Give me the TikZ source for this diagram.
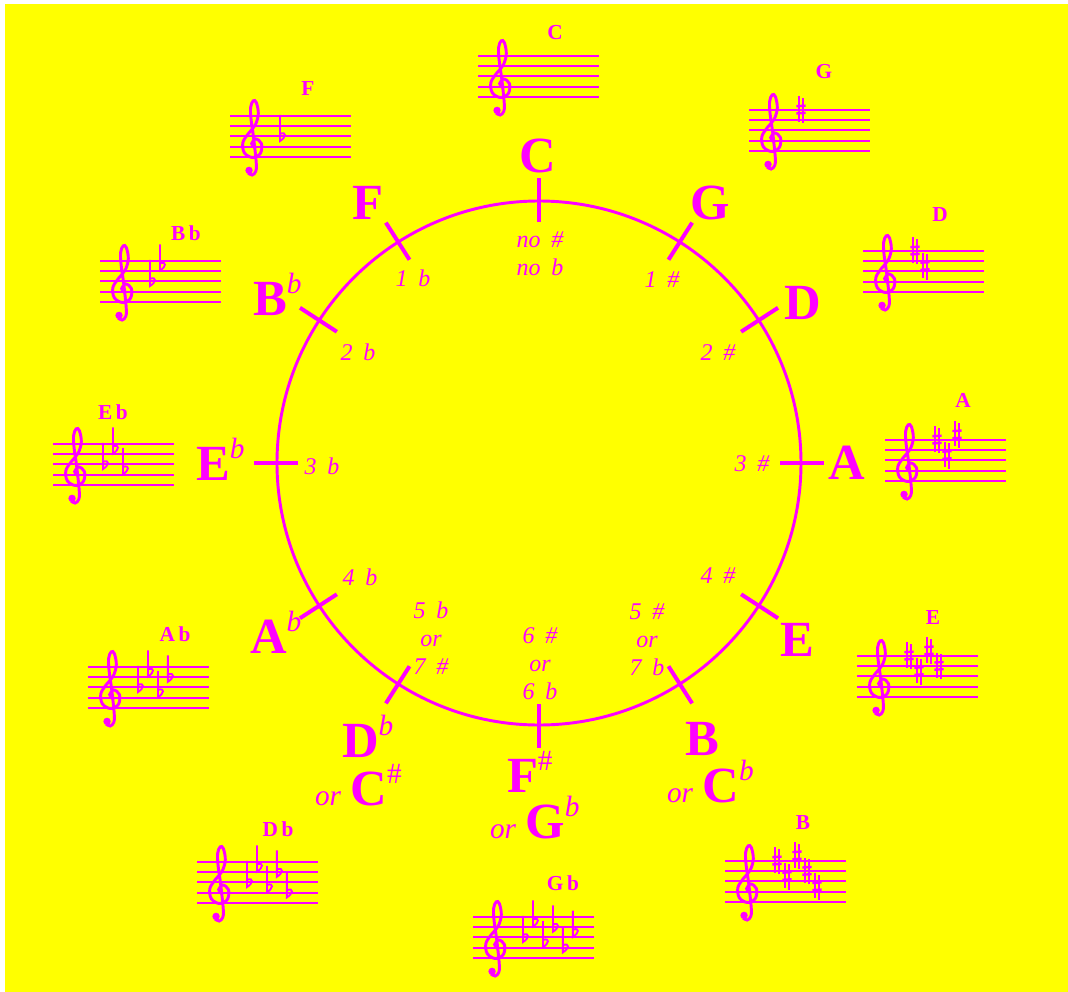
\documentclass[tikz,border=0pt]{standalone}
\usepackage{fontspec}
\setmainfont{Liberation Serif}
\definecolor{mag}{RGB}{255,0,255}
\definecolor{bgyel}{RGB}{255,255,0}
\tikzset{
  every node/.style={text=mag, inner sep=0pt, outer sep=0pt},
  keylab/.style={font=\fontsize{38}{40}\selectfont\bfseries},
  inlab/.style={font=\fontsize{18}{21}\selectfont\itshape, align=center},
  titlelab/.style={font=\fontsize{16}{18}\selectfont\bfseries},
  ring/.style={draw=mag, line width=2.2pt},
  tickmark/.style={draw=mag, line width=3pt},
  staffline/.style={draw=mag, line width=1.5pt},
  clefline/.style={draw=mag, line width=2.2pt},
  accline/.style={draw=mag, line width=1.4pt},
}
\newcommand\supflat{\raisebox{16pt}{\fontsize{22}{22}\selectfont\mdseries\itshape b}}
\newcommand\supsharp{\raisebox{16pt}{\fontsize{22}{22}\selectfont\mdseries \#}}
\newcommand\orword{{\fontsize{22}{22}\selectfont\mdseries\itshape or}\hspace{7pt}}
\newcommand\gp{\hspace{8pt}}
\newcommand\mysharps[1]{\foreach \p [count=\k from 0] in {#1}{
  \begin{scope}[shift={(5.05+0.97*\k,\p/2)}]
    \draw[accline, line width=1.2pt] (-0.2,-1.15) -- (-0.2,1.3) (0.2,-1.3) -- (0.2,1.15);
    \draw[accline, line width=1.8pt] (-0.45,-0.35) -- (0.45,-0.3) (-0.45,0.35) -- (0.45,0.4);
  \end{scope}}}
\newcommand\myflats[1]{\foreach \p [count=\k from 0] in {#1}{
  \begin{scope}[shift={(5.05+0.97*\k,\p/2)}]
    \draw[accline] (-0.2,2.1) -- (-0.2,-0.45) .. controls (0.4,-0.1) and (0.5,0.5) .. (-0.2,0.25);
  \end{scope}}}
\newcommand\keystaff[3]{%
  \begin{scope}[shift={(#1,#2)}, x=7.725pt, y=7.725pt]
    \foreach \i in {0,...,4} \draw[staffline] (0,\i) -- (11.75,\i);
    \begin{scope}[shift={(2.2,0)}]
      \draw[clefline] plot[smooth, tension=0.6] coordinates {(0.15,0.95) (-0.1,1.3) (0.3,1.75) (0.85,1.3) (0.75,0.35) (0.0,-0.05) (-0.8,0.4) (-0.95,1.4) (-0.4,2.3) (0.25,3.1) (0.55,4.2) (0.35,5.3) (0.05,5.45) (-0.2,4.8) (-0.15,3.6) (0.1,1.8) (0.35,-0.6) (0.3,-1.4) (-0.05,-1.75) (-0.45,-1.55)};
      \fill[mag] (-0.35,-1.3) circle (0.36);
    \end{scope}
    #3
  \end{scope}}
\begin{document}
\begin{tikzpicture}[x=0.75pt, y=-0.75pt]
\useasboundingbox (0,0) rectangle (1068,992);
\fill[white] (0,0) rectangle (1068,992);
\fill[bgyel] (5,4) rectangle (1068,992);
% circle of fifths
\coordinate (O) at (539,463);
\draw[ring] (O) circle[radius=262];
\foreach \a in {-90,-57.5,-33,0,33,57.5,90,122.5,147,180,213,237.5}
  \draw[tickmark] (O) ++(\a:241) -- ++(\a:44);
% outer key names
\node[keylab] (kC) at (538,156) {C};
\node[keylab] (kG) at (710,203) {G};
\node[keylab] (kD) at (803,303) {D};
\node[keylab] (kA) at (847,463) {A};
\node[keylab] (kE) at (797,640) {E};
\node[keylab, anchor=base west] (kB) at (685,755) {B};
\node[keylab, anchor=base west] (kBor) at (667,802) {\orword C\supflat};
\node[keylab, anchor=base west] (kFs) at (507,792) {F\supsharp};
\node[keylab, anchor=base west] (kFsor) at (490,838) {\orword G\supflat};
\node[keylab, anchor=base west] (kDb) at (342,757) {D\supflat};
\node[keylab, anchor=base west] (kDbor) at (315,805) {\orword C\supsharp};
\node[keylab, anchor=base west] (kAb) at (250,653) {A\supflat};
\node[keylab, anchor=base west] (kEb) at (196,480) {E\supflat};
\node[keylab, anchor=base west] (kBb) at (253,315) {B\supflat};
\node[keylab] (kF) at (368,203) {F};
% inner counts
\node[inlab] (nC) at (540,254) {no\gp\#\\no\gp b};
\node[inlab] (nG) at (662,280) {1\gp\#};
\node[inlab] (nD) at (718,353) {2\gp\#};
\node[inlab] (nA) at (752,464) {3\gp\#};
\node[inlab] (nE) at (718,576) {4\gp\#};
\node[inlab] (nB) at (647,640) {5\gp\#\\or\\7\gp b};
\node[inlab] (nFs) at (540,664) {6\gp\#\\or\\6\gp b};
\node[inlab] (nDb) at (431,638) {5\gp b\\or\\7\gp\#};
\node[inlab] (nAb) at (360,577) {4\gp b};
\node[inlab] (nEb) at (322,466) {3\gp b};
\node[inlab] (nBb) at (358,352) {2\gp b};
\node[inlab] (nF) at (413,278) {1\gp b};
% staff titles
\node[titlelab] (tC) at (555,33) {C};
\node[titlelab] (tG) at (824,72) {G};
\node[titlelab] (tD) at (940,215) {D};
\node[titlelab] (tA) at (963,400) {A};
\node[titlelab] (tE) at (933,618) {E};
\node[titlelab] (tB) at (803,823) {B};
\node[titlelab] (tGb) at (563,883) {G\,b};
\node[titlelab] (tDb) at (278,829) {D\,b};
\node[titlelab] (tAb) at (175,634) {A\,b};
\node[titlelab] (tEb) at (113,412) {E\,b};
\node[titlelab] (tBb) at (186,233) {B\,b};
\node[titlelab] (tF) at (308,89) {F};
% staves
\keystaff{478}{97}{}
\keystaff{749}{151}{\mysharps{8}}
\keystaff{863}{292}{\mysharps{8,5}}
\keystaff{885}{481}{\mysharps{8,5,9}}
\keystaff{857}{697}{\mysharps{8,5,9,6}}
\keystaff{725}{902}{\mysharps{8,5,9,6,3}}
\keystaff{473}{958}{\myflats{4,7,3,6,2,5}}
\keystaff{197}{903}{\myflats{4,7,3,6,2}}
\keystaff{88}{708}{\myflats{4,7,3,6}}
\keystaff{53}{485}{\myflats{4,7,3}}
\keystaff{100}{302}{\myflats{4,7}}
\keystaff{230}{157}{\myflats{4}}
\end{tikzpicture}
\end{document}
